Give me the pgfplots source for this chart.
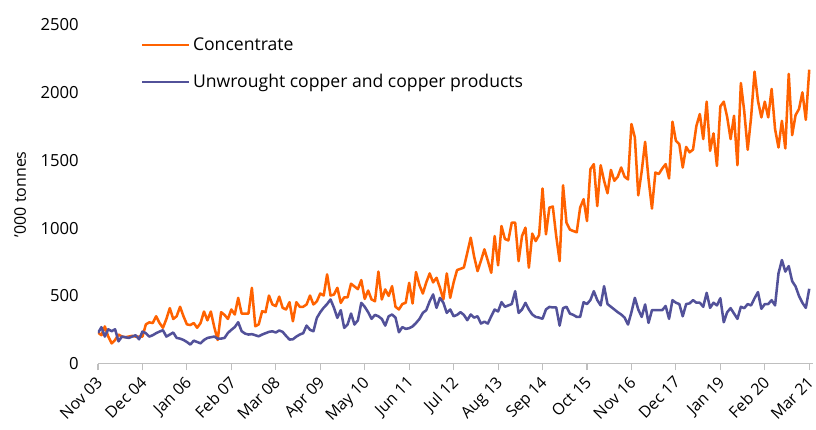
\documentclass[border=0pt]{standalone}
\usepackage{pgfplots}
\usepackage{pgfplotstable}
\pgfplotsset{compat=1.18}
\usepackage{fontspec}
\setmainfont{Open Sans}
\definecolor{ingorange}{RGB}{255,98,0}
\definecolor{ingblue}{RGB}{82,81,153}
\pgfplotstableread{
conc unw
230 227
210 269
275 200
200 254
150 240
175 254
215 165
200 200
195 195
200 190
205 200
200 210
200 180
200 237
290 225
305 200
300 210
350 225
300 237
265 247
330 200
410 215
330 230
350 190
420 185
350 175
290 160
285 141
300 170
265 160
300 150
385 175
320 190
385 195
270 200
175 185
380 185
360 190
330 227
400 250
363 270
486 306
370 240
370 222
370 215
560 218
276 210
290 202
387 215
380 225
503 235
437 239
425 230
495 245
412 235
400 205
454 178
313 180
454 200
420 215
420 225
437 281
503 250
437 239
460 338
518 380
503 413
659 440
503 474
510 413
560 338
449 395
490 264
490 290
590 370
570 289
550 320
617 449
478 420
540 380
474 331
461 360
680 350
474 330
548 281
500 350
572 363
420 340
400 232
440 270
450 257
597 262
444 275
676 300
580 330
518 375
600 395
666 461
600 511
634 412
560 486
474 450
666 375
486 400
600 350
691 360
700 380
710 360
819 321
930 363
790 340
683 350
760 296
844 310
760 296
671 350
942 400
726 385
1016 454
920 420
910 430
1041 440
1041 535
757 375
942 400
1004 449
708 400
960 363
905 345
950 340
1293 331
955 400
1152 419
1160 415
942 415
757 281
1317 410
1041 420
990 370
979 360
970 345
1152 345
1214 454
1053 440
1436 470
1473 535
1164 470
1465 430
1350 572
1258 440
1430 420
1350 400
1380 380
1448 363
1380 340
1360 289
1769 380
1670 486
1243 400
1420 345
1638 437
1362 301
1145 395
1411 395
1400 395
1440 395
1473 426
1367 331
1786 469
1645 450
1620 440
1448 350
1600 440
1560 445
1580 469
1756 450
1843 450
1658 420
1934 523
1571 412
1700 450
1460 430
1899 483
1934 306
1820 380
1658 410
1830 370
1465 331
2072 420
1860 410
1579 440
1820 430
2156 483
1941 528
1818 405
1934 440
1818 440
2028 469
1732 430
1596 666
1793 765
1589 680
2139 720
1687 609
1835 570
1880 500
2003 449
1800 412
2170 553
}\datatable
\begin{document}
\begin{tikzpicture}
\begin{axis}[
  scale only axis,
  width=536pt, height=254pt,
  xmin=0, xmax=209,
  ymin=0, ymax=2500,
  axis lines*=left,
  x axis line style={draw=gray!50, line width=0.8pt},
  y axis line style={draw=none},
  xtick={0,13,26,39,52,65,78,91,104,117,130,143,156,169,182,195,208},
  xticklabels={Nov 03,Dec 04,Jan 06,Feb 07,Mar 08,Apr 09,May 10,Jun 11,Jul 12,Aug 13,Sep 14,Oct 15,Nov 16,Dec 17,Jan 19,Feb 20,Mar 21},
  xtick style={draw=gray!50, line width=0.8pt},
  tick align=outside,
  major tick length=5pt,
  ytick={0,500,1000,1500,2000,2500},
  ytick style={draw=none},
  xticklabel style={rotate=45, anchor=north east, font=\fontsize{12}{14}\selectfont, inner sep=1pt, xshift=-3pt},
  yticklabel style={font=\fontsize{12.5}{14}\selectfont},
  yticklabel shift=6pt,
  /pgf/number format/assume math mode=true,
  /pgf/number format/1000 sep={},
  ylabel={'000 tonnes},
  ylabel style={font=\fontsize{12}{14}\selectfont},
  ylabel shift=4pt,
  legend cell align=left,
  legend style={draw=none, fill=none, at={(0.06,0.972)}, anchor=north west,
    font=\fontsize{13.2}{15}\selectfont, row sep=12.5pt, inner sep=0pt},
  legend image code/.code={\draw[#1] (0pt,0pt) -- (35pt,0pt);},
]
\addplot[ingorange, line width=1.9pt, line join=round] table[x expr=\coordindex, y=conc] {\datatable};
\addlegendentry{Concentrate}
\addplot[ingblue, line width=1.9pt, line join=round] table[x expr=\coordindex, y=unw] {\datatable};
\addlegendentry{Unwrought copper and copper products}
\end{axis}
\pgfresetboundingbox
\path[use as bounding box] (-73.5pt,-49pt) rectangle (538.5pt,272.75pt);
\end{tikzpicture}
\end{document}
